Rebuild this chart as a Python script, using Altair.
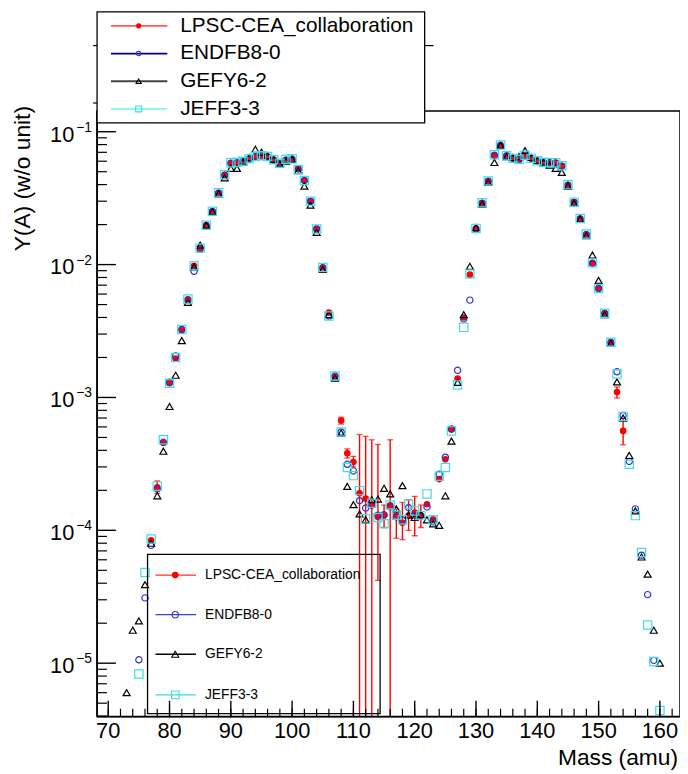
import altair as alt
import pandas as pd

# ---------------- data ----------------
lpsc_mass = list(range(77, 155))
lpsc_y = [8.4e-5, 2.11e-4, 4.56e-4, 1.28e-3, 1.96e-3, 3.2e-3, 5.48e-3, 9.8e-3, 1.33e-2, 1.98e-2,
          2.52e-2, 3.47e-2, 4.73e-2, 5.81e-2, 5.87e-2, 5.98e-2, 6.22e-2, 6.47e-2, 6.59e-2, 6.47e-2,
          6.15e-2, 5.78e-2, 6.15e-2, 6.22e-2, 5.24e-2, 4.29e-2, 2.99e-2, 1.87e-2, 9.55e-3, 4.35e-3,
          1.43e-3, 6.7e-4, 3.8e-4, 3.27e-4, 1.9e-4, 1.73e-4, 1.54e-4, 1.26e-4, 1.29e-4, 1.54e-4,
          1.29e-4, 1.14e-4, 1.29e-4, 1.36e-4, 1.29e-4, 1.57e-4, 1.21e-4, 2.43e-4, 3.42e-4, 5.73e-4,
          1.39e-3, 4.0e-3, 8.4e-3, 1.87e-2, 2.91e-2, 4.25e-2, 6.7e-2, 7.91e-2, 6.59e-2, 6.29e-2,
          6.15e-2, 6.66e-2, 6.29e-2, 6.05e-2, 5.87e-2, 5.87e-2, 5.87e-2, 5.55e-2, 3.98e-2, 2.96e-2,
          2.22e-2, 1.69e-2, 1.03e-2, 6.62e-3, 4.29e-3, 2.6e-3, 1.1e-3, 5.6e-4]

endf_mass = list(range(75, 160))
endf_y = [1.06e-5, 3.1e-5, 7.7e-5, 2.05e-4, 4.6e-4, 1.3e-3, 2.05e-3, 3.25e-3, 5.4e-3, 8.9e-3,
          1.31e-2, 1.96e-2, 2.5e-2, 3.45e-2, 4.7e-2, 5.8e-2, 5.85e-2, 6.0e-2, 6.25e-2, 6.5e-2,
          6.55e-2, 6.45e-2, 6.1e-2, 5.8e-2, 6.1e-2, 6.2e-2, 5.25e-2, 4.3e-2, 3.0e-2, 1.85e-2,
          9.4e-3, 4.1e-3, 1.45e-3, 5.5e-4, 3.14e-4, 2.8e-4, 1.67e-4, 1.47e-4, 1.55e-4, 1.3e-4,
          1.31e-4, 1.5e-4, 1.26e-4, 1.2e-4, 1.48e-4, 1.3e-4, 1.29e-4, 1.5e-4, 1.16e-4, 2.64e-4,
          3.55e-4, 5.8e-4, 1.6e-3, 3.9e-3, 5.4e-3, 1.85e-2, 2.9e-2, 4.25e-2, 6.6e-2, 7.9e-2,
          6.6e-2, 6.3e-2, 6.15e-2, 6.6e-2, 6.3e-2, 6.0e-2, 5.9e-2, 5.85e-2, 5.8e-2, 5.5e-2,
          3.95e-2, 2.95e-2, 2.2e-2, 1.68e-2, 1.02e-2, 6.6e-3, 4.3e-3, 2.6e-3, 1.56e-3, 7.3e-4,
          3.3e-4, 1.45e-4, 6.5e-5, 3.28e-5, 1.05e-5]

gefy_mass = list(range(73, 161))
gefy_y = [6.0e-6, 1.77e-5, 2.08e-5, 3.9e-5, 8.0e-5, 1.82e-4, 3.94e-4, 8.55e-4, 1.47e-3, 2.68e-3,
          5.2e-3, 9.6e-3, 1.4e-2, 1.98e-2, 2.5e-2, 3.4e-2, 4.5e-2, 5.3e-2, 5.3e-2, 5.9e-2,
          6.4e-2, 7.38e-2, 7.0e-2, 6.6e-2, 6.2e-2, 5.7e-2, 6.0e-2, 6.2e-2, 5.1e-2, 3.9e-2,
          2.8e-2, 1.75e-2, 9.2e-3, 4.2e-3, 1.4e-3, 5.4e-4, 2.14e-4, 1.56e-4, 1.33e-4, 1.2e-4,
          1.7e-4, 1.72e-4, 2.07e-4, 1.88e-4, 1.45e-4, 2.17e-4, 1.3e-4, 1.25e-4, 1.32e-4, 1.2e-4,
          1.12e-4, 1.09e-4, 1.82e-4, 4.69e-4, 1.3e-3, 4.2e-3, 9.7e-3, 1.9e-2, 2.85e-2, 4.15e-2,
          5.87e-2, 7.9e-2, 6.5e-2, 6.4e-2, 6.5e-2, 7.2e-2, 6.4e-2, 6.1e-2, 5.9e-2, 5.6e-2,
          5.3e-2, 4.95e-2, 3.9e-2, 2.9e-2, 2.2e-2, 1.65e-2, 1.18e-2, 7.6e-3, 4.2e-3, 2.55e-3,
          1.31e-3, 7.0e-4, 3.66e-4, 1.4e-4, 6.3e-5, 4.68e-5, 1.77e-5, 1.0e-5]

jeff_mass = list(range(75, 161))
jeff_y = [8.3e-6, 4.82e-5, 8.6e-5, 2.15e-4, 4.8e-4, 1.28e-3, 2.0e-3, 3.25e-3, 5.5e-3, 9.8e-3,
          1.33e-2, 1.98e-2, 2.52e-2, 3.47e-2, 4.75e-2, 5.85e-2, 5.9e-2, 6.0e-2, 6.25e-2, 6.5e-2,
          6.6e-2, 6.5e-2, 6.15e-2, 5.8e-2, 6.2e-2, 6.25e-2, 5.2e-2, 4.3e-2, 3.0e-2, 1.85e-2,
          9.5e-3, 4.1e-3, 1.45e-3, 5.5e-4, 2.97e-4, 2.58e-4, 1.99e-4, 1.22e-4, 1.6e-4, 1.25e-4,
          1.12e-4, 1.55e-4, 1.3e-4, 1.2e-4, 1.57e-4, 1.4e-4, 1.29e-4, 1.88e-4, 1.2e-4, 2.55e-4,
          2.97e-4, 5.6e-4, 1.24e-3, 3.37e-3, 8.5e-3, 1.87e-2, 2.92e-2, 4.25e-2, 6.7e-2, 7.95e-2,
          6.6e-2, 6.3e-2, 6.2e-2, 6.65e-2, 6.3e-2, 6.05e-2, 5.9e-2, 5.85e-2, 5.85e-2, 5.55e-2,
          4.0e-2, 2.95e-2, 2.22e-2, 1.7e-2, 1.03e-2, 6.6e-3, 4.3e-3, 2.6e-3, 1.5e-3, 7.2e-4,
          3.14e-4, 1.29e-4, 6.8e-5, 1.94e-5, 1.03e-5, 4.4e-6]

# LPSC error bars (None = lower end falls below the axis)
err_mass = [78, 108, 109, 110, 111, 112, 113, 114, 115, 116, 117, 118, 119, 120, 121, 153, 154]
err_lo = [1.9e-4, 6.3e-4, 3.5e-4, 3.0e-4, None, None, None, 4.2e-5, 1.05e-4, None,
          8.7e-5, 8.5e-5, 1.0e-4, 9.1e-5, 1.05e-4, 9.9e-4, 4.4e-4]
err_hi = [2.35e-4, 7.1e-4, 4.1e-4, 3.6e-4, 5.26e-4, 5.1e-4, 4.8e-4, 4.43e-4, 1.55e-4, 4.8e-4,
          1.45e-4, 1.62e-4, 1.7e-4, 1.8e-4, 1.55e-4, 1.2e-3, 7.0e-4]

legend_labels = ["LPSC-CEA_collaboration", "ENDFB8-0", "GEFY6-2", "JEFF3-3"]
x_major = [70, 80, 90, 100, 110, 120, 130, 140, 150, 160]
x_minor = list(range(70, 163, 2))
y_exps = [-1, -2, -3, -4, -5]
x_title = "Mass (amu)"
y_title = "Y(A) (w/o unit)"

# ---------------- layout / style ----------------
W, H = 589, 612
X_DOM = [68.18, 163.28]
Y_DOM = [3.961e-6, 0.1434]
FONT = "Liberation Sans"

xs = alt.Scale(domain=X_DOM, nice=False, zero=False)
ys = alt.Scale(type="log", domain=Y_DOM, nice=False)

RED, BLUE, BLACK, CYAN = "#ff0000", "#3030c8", "#000000", "#3fdde6"

styles = [
    dict(shape="circle", filled=True, color=RED, size=45),
    dict(shape="circle", filled=False, color=BLUE, size=40),
    dict(shape="triangle-up", filled=False, color=BLACK, size=50),
    dict(shape="square", filled=False, color=CYAN, size=70),
]


def X(field):
    return alt.X(field, scale=xs, axis=None)


def Y(field):
    return alt.Y(field, scale=ys, axis=None)


def pts(mass, vals, st):
    df = pd.DataFrame({"A": mass, "Y": vals})
    if st["filled"]:
        mk = alt.Chart(df).mark_point(shape=st["shape"], filled=True, size=st["size"],
                                      color=st["color"], opacity=1)
    else:
        mk = alt.Chart(df).mark_point(shape=st["shape"], filled=False, size=st["size"],
                                      stroke=st["color"], strokeWidth=1.2, opacity=1)
    return mk.encode(x=X("A:Q"), y=Y("Y:Q"))


layers = []

# error bars
lo_clamped = [v if v is not None else Y_DOM[0] / 10 for v in err_lo]
edf = pd.DataFrame({"A": err_mass, "lo": lo_clamped, "hi": err_hi})
layers.append(alt.Chart(edf).mark_rule(color=RED, strokeWidth=1.4, clip=True).encode(
    x=X("A:Q"), y=Y("lo:Q"), y2="hi:Q"))
for col in ["lo", "hi"]:
    layers.append(alt.Chart(edf).mark_tick(color=RED, orient="horizontal", size=6,
                                           thickness=1.3, clip=True).encode(
        x=X("A:Q"), y=Y(f"{col}:Q")))

layers.append(pts(lpsc_mass, lpsc_y, styles[0]))
layers.append(pts(endf_mass, endf_y, styles[1]))
layers.append(pts(gefy_mass, gefy_y, styles[2]))
layers.append(pts(jeff_mass, jeff_y, styles[3]))

# axis lines
seg = pd.DataFrame({"k": [0]})
layers.append(alt.Chart(seg).mark_rule(color="black", strokeWidth=1.6).encode(
    x=alt.value(0), y=alt.value(0), y2=alt.value(H)))
layers.append(alt.Chart(seg).mark_rule(color="black", strokeWidth=1.6).encode(
    x=alt.value(0), x2=alt.value(W), y=alt.value(H)))

# inside ticks
layers.append(alt.Chart(pd.DataFrame({"v": x_minor})).mark_rule(color="black", strokeWidth=1.2).encode(
    x=X("v:Q"), y=alt.value(H), y2=alt.value(H - 8)))
layers.append(alt.Chart(pd.DataFrame({"v": x_major})).mark_rule(color="black", strokeWidth=1.4).encode(
    x=X("v:Q"), y=alt.value(H), y2=alt.value(H - 16)))
y_minor = [m * 10.0 ** d for d in range(-6, 0) for m in range(2, 10)
           if Y_DOM[0] <= m * 10.0 ** d <= Y_DOM[1]]
layers.append(alt.Chart(pd.DataFrame({"v": y_minor})).mark_rule(color="black", strokeWidth=1.2).encode(
    y=Y("v:Q"), x=alt.value(0), x2=alt.value(10)))
y_major = [10.0 ** e for e in y_exps]
layers.append(alt.Chart(pd.DataFrame({"v": y_major})).mark_rule(color="black", strokeWidth=1.4).encode(
    y=Y("v:Q"), x=alt.value(0), x2=alt.value(19)))

# x tick labels
layers.append(alt.Chart(pd.DataFrame({"v": x_major, "t": [str(v) for v in x_major]})).mark_text(
    align="center", baseline="alphabetic", fontSize=22, font=FONT, color="black").encode(
    x=X("v:Q"), y=alt.value(H + 22), text="t:N"))

# y tick labels 10^n
ylab = pd.DataFrame({"v": y_major, "base": ["10"] * len(y_exps),
                     "sup": ["\u2212" + str(-e) for e in y_exps]})
layers.append(alt.Chart(ylab).mark_text(align="right", baseline="alphabetic", dy=10,
                                        fontSize=22, font=FONT, color="black").encode(
    y=Y("v:Q"), x=alt.value(-23), text="base:N"))
layers.append(alt.Chart(ylab).mark_text(align="left", baseline="alphabetic", dy=0,
                                        fontSize=14, font=FONT, color="black").encode(
    y=Y("v:Q"), x=alt.value(-21), text="sup:N"))

# axis titles
layers.append(alt.Chart(pd.DataFrame({"t": [x_title]})).mark_text(
    align="right", baseline="alphabetic", fontSize=23, font=FONT, color="black").encode(
    x=alt.value(W - 2), y=alt.value(H + 49), text="t:N"))
layers.append(alt.Chart(pd.DataFrame({"t": [y_title]})).mark_text(
    align="right", baseline="alphabetic", angle=270, fontSize=23, font=FONT, color="black").encode(
    x=alt.value(-68), y=alt.value(-5), text="t:N"))

# extra frame fragments above the plot
for (x0, x1, yy) in [(-4, 0, -66), (331, 340, -66), (-4, 0, -8)]:
    layers.append(alt.Chart(seg).mark_rule(color="black", strokeWidth=1.2).encode(
        x=alt.value(x0), x2=alt.value(x1), y=alt.value(yy)))


def legend(box, rows, lx0, lx1, mx, tx, fs, fill, msizes, lcolors, lwidth):
    out = []
    bx0, bx1, by0, by1 = box
    rect = alt.Chart(seg).mark_rect(fill=fill if fill else "white", fillOpacity=1 if fill else 0,
                                    stroke="black", strokeWidth=1.3)
    out.append(rect.encode(x=alt.value(bx0), x2=alt.value(bx1), y=alt.value(by0), y2=alt.value(by1)))
    for i, lab in enumerate(legend_labels):
        yy = rows[i]
        st = styles[i]
        out.append(alt.Chart(seg).mark_rule(color=lcolors[i], strokeWidth=lwidth).encode(
            x=alt.value(lx0), x2=alt.value(lx1), y=alt.value(yy)))
        if st["filled"]:
            m = alt.Chart(seg).mark_point(shape=st["shape"], filled=True, size=msizes[i],
                                          color=st["color"], opacity=1)
        else:
            m = alt.Chart(seg).mark_point(shape=st["shape"], filled=False, size=msizes[i],
                                          stroke=st["color"], strokeWidth=1.1, opacity=1)
        out.append(m.encode(x=alt.value(mx), y=alt.value(yy)))
        out.append(alt.Chart(pd.DataFrame({"t": [lab]})).mark_text(
            align="left", baseline="middle", fontSize=fs, font=FONT, color="black").encode(
            x=alt.value(tx), y=alt.value(yy), text="t:N"))
    return out


# top legend (opaque)
layers += legend((0, 331, -100, 12), [-86, -58, -30, -2], 14, 71, 42, 84, 21, "white",
                 [28, 20, 28, 36], ["#ff5a5a", "#000080", "#444444", "#7ff5f5"], 1.8)
# bottom legend (transparent)
layers += legend((51, 286, 448, 609), [469, 509, 549, 590], 59, 100, 79, 109, 14, None,
                 [45, 40, 50, 60], ["#ff3030", "#4040d0", "#000000", "#30e0e8"], 1.4)

chart = alt.layer(*layers).properties(
    width=W, height=H,
    padding={"left": 90, "top": 100, "right": 0, "bottom": 56},
    autosize=alt.AutoSizeParams(type="none"),
    background="white",
).configure_view(stroke="black", strokeWidth=1.5)

chart.save("out.html", embed_options={"renderer": "svg", "actions": False})
